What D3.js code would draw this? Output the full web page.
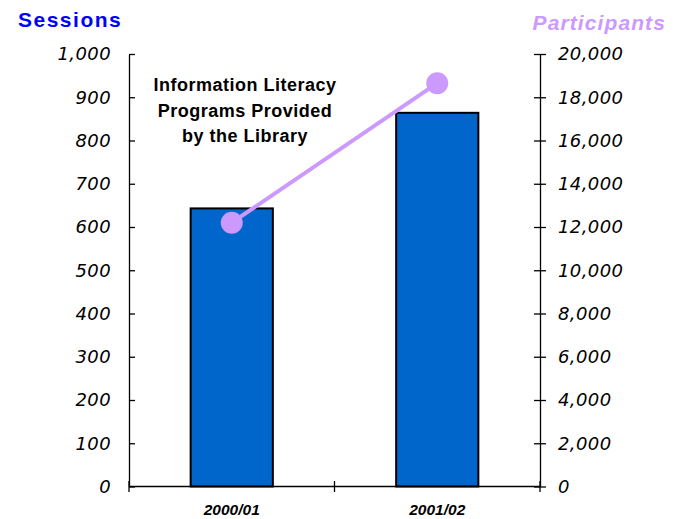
<!DOCTYPE html>
<html>
<head>
<meta charset="utf-8">
<script src="https://cdn.jsdelivr.net/npm/d3@7"></script>
<style>
  body { margin: 0; background: #fff; }
  svg { display: block; }
</style>
</head>
<body>
<div id="chart"></div>
<script>
// data
var years = ["2000/01", "2001/02"];
var sessions = [643, 864];
var participants = [12200, 18650];
var sessionTicks = [0, 100, 200, 300, 400, 500, 600, 700, 800, 900, 1000];
var participantTicks = [0, 2000, 4000, 6000, 8000, 10000, 12000, 14000, 16000, 18000, 20000];

var w = 675, h = 519;
var margin = { top: 54, right: 135, bottom: 32.5, left: 129 };
var width = w - margin.left - margin.right,
    height = h - margin.top - margin.bottom;

var svg = d3.select("#chart")
    .append("svg")
    .attr("width", w)
    .attr("height", h);

var g = svg.append("g")
    .attr("transform", "translate(" + margin.left + "," + margin.top + ")");

var x = d3.scaleBand().domain(years).range([0, width]).paddingInner(0).paddingOuter(0);
var yL = d3.scaleLinear().domain([0, 1000]).range([height, 0]);
var yR = d3.scaleLinear().domain([0, 20000]).range([height, 0]);

var fmt = d3.format(",");
var tickFont = "'DejaVu Sans', Verdana, sans-serif";
var arial = "Arial, 'Liberation Sans', sans-serif";

// left axis
var leftAxis = g.append("g")
    .call(d3.axisLeft(yL).tickValues(sessionTicks).tickFormat(fmt).tickSize(6).tickSizeOuter(0));
leftAxis.selectAll(".tick line").attr("x2", 6);
// right axis
var rightAxis = g.append("g")
    .attr("transform", "translate(" + width + ",0)")
    .call(d3.axisRight(yR).tickValues(participantTicks).tickFormat(fmt).tickSize(6).tickSizeOuter(0));
rightAxis.selectAll(".tick line").attr("x1", -6);

[leftAxis, rightAxis].forEach(function (a) {
    a.select(".domain").attr("stroke", "#000").attr("stroke-width", 1.3);
    a.selectAll(".tick line").attr("stroke", "#000").attr("stroke-width", 1.3);
    a.selectAll(".tick text")
        .attr("font-family", tickFont)
        .attr("font-style", "italic")
        .attr("font-size", 18)
        .attr("letter-spacing", 0.4)
        .attr("fill", "#000");
});
leftAxis.selectAll(".tick text").attr("x", -18);
rightAxis.selectAll(".tick text").attr("x", 18);

// bars
var barW = x.bandwidth() * 0.4;
g.selectAll(".bar")
    .data(sessions)
    .enter()
    .append("rect")
    .attr("class", "bar")
    .attr("x", function (d, i) { return x(years[i]) + (x.bandwidth() - barW) / 2; })
    .attr("y", function (d) { return yL(d); })
    .attr("width", barW)
    .attr("height", function (d) { return height - yL(d); })
    .attr("fill", "#0066CC")
    .attr("stroke", "#000")
    .attr("stroke-width", 2);

// bottom axis
var bottom = g.append("g").attr("transform", "translate(0," + height + ")");
bottom.append("line")
    .attr("x1", 0).attr("x2", width)
    .attr("stroke", "#000").attr("stroke-width", 1.3);
var catEdges = years.map(function (d) { return x(d); }).concat([width]);
bottom.selectAll(".xtick")
    .data(catEdges)
    .enter()
    .append("line")
    .attr("x1", function (d) { return d; })
    .attr("x2", function (d) { return d; })
    .attr("y1", -5.5).attr("y2", 5.5)
    .attr("stroke", "#000").attr("stroke-width", 1.3);
bottom.selectAll(".xlabel")
    .data(years)
    .enter()
    .append("text")
    .attr("x", function (d) { return x(d) + x.bandwidth() / 2; })
    .attr("y", 28)
    .attr("text-anchor", "middle")
    .attr("font-family", arial)
    .attr("font-weight", "bold")
    .attr("font-style", "italic")
    .attr("font-size", 15.5)
    .text(function (d) { return d; });

// participants line
var line = d3.line()
    .x(function (d, i) { return x(years[i]) + x.bandwidth() / 2; })
    .y(function (d) { return yR(d); });
g.append("path")
    .datum(participants)
    .attr("d", line)
    .attr("fill", "none")
    .attr("stroke", "#CC99FF")
    .attr("stroke-width", 4);
g.selectAll(".dot")
    .data(participants)
    .enter()
    .append("circle")
    .attr("cx", function (d, i) { return x(years[i]) + x.bandwidth() / 2; })
    .attr("cy", function (d) { return yR(d); })
    .attr("r", 11)
    .attr("fill", "#CC99FF");

// titles
svg.append("text")
    .attr("x", 18).attr("y", 27)
    .attr("font-family", arial)
    .attr("font-weight", "bold")
    .attr("font-size", 21)
    .attr("letter-spacing", 1.5)
    .attr("fill", "#0000FF")
    .text("Sessions");
svg.append("text")
    .attr("x", 666).attr("y", 30)
    .attr("text-anchor", "end")
    .attr("font-family", arial)
    .attr("font-weight", "bold")
    .attr("font-style", "italic")
    .attr("font-size", 21)
    .attr("letter-spacing", 1.1)
    .attr("fill", "#CC99FF")
    .text("Participants");

// annotation
var note = ["Information Literacy", "Programs Provided", "by the Library"];
svg.append("text")
    .attr("font-family", arial)
    .attr("font-weight", "bold")
    .attr("font-size", 18)
    .attr("letter-spacing", 0.5)
    .attr("text-anchor", "middle")
    .selectAll("tspan")
    .data(note)
    .enter()
    .append("tspan")
    .attr("x", 245)
    .attr("y", function (d, i) { return 91 + i * 25.5; })
    .text(function (d) { return d; });
</script>
</body>
</html>
